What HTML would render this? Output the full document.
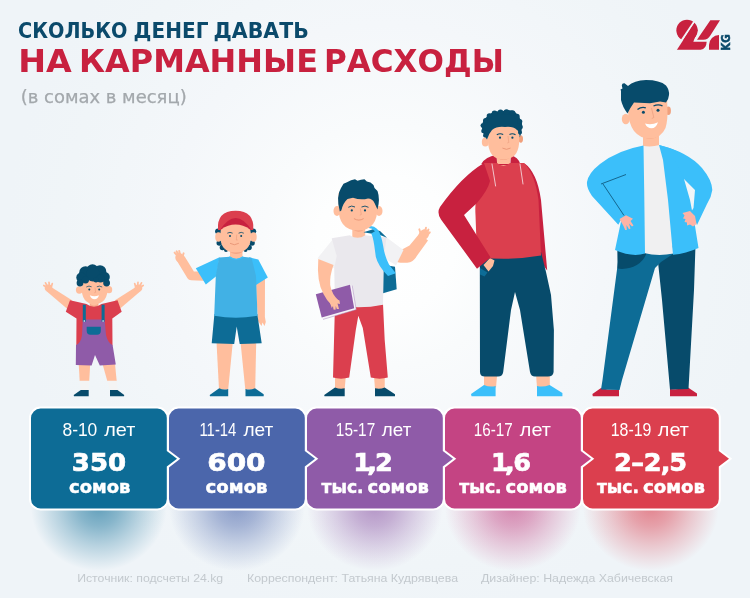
<!DOCTYPE html>
<html lang="ru">
<head>
<meta charset="utf-8">
<title>Сколько денег давать на карманные расходы</title>
<style>
html,body{margin:0;padding:0;}
body{width:750px;height:598px;overflow:hidden;background:#eff4f8;font-family:"Liberation Sans","DejaVu Sans",sans-serif;}
svg{display:block;position:absolute;left:0;top:0;}
.t1{font-family:"DejaVu Sans","Liberation Sans",sans-serif;font-weight:bold;fill:#0b4a6b;}
.t2{font-family:"DejaVu Sans","Liberation Sans",sans-serif;font-weight:bold;fill:#c8213f;}
.t3{font-family:"DejaVu Sans","Liberation Sans",sans-serif;fill:#a3a8ac;stroke:#a3a8ac;stroke-width:0.25;}
.age{font-family:"Liberation Sans",sans-serif;fill:#ffffff;}
.num{font-family:"DejaVu Sans","Liberation Sans",sans-serif;font-weight:bold;fill:#ffffff;stroke:#ffffff;stroke-width:0.7;}
.unit{font-family:"DejaVu Sans","Liberation Sans",sans-serif;font-weight:bold;fill:#ffffff;stroke:#ffffff;stroke-width:0.5;}
.foot{font-family:"Liberation Sans",sans-serif;fill:#c3c9ce;}
.kg{font-family:"DejaVu Sans","Liberation Sans",sans-serif;font-weight:bold;fill:#0b4a6b;stroke:#0b4a6b;stroke-width:0.5;}
</style>
</head>
<body>
<svg width="750" height="598" viewBox="0 0 750 598">
<defs>
<radialGradient id="bg" gradientUnits="userSpaceOnUse" cx="385" cy="245" r="380">
<stop offset="0" stop-color="#ffffff"/>
<stop offset="0.18" stop-color="#fdfefe"/>
<stop offset="0.32" stop-color="#f9fbfc"/>
<stop offset="0.58" stop-color="#f4f7fa"/>
<stop offset="0.85" stop-color="#f0f5f8"/>
<stop offset="1" stop-color="#eff4f8"/>
</radialGradient>
<radialGradient id="sh0" cx="0.5" cy="0.5" r="0.5"><stop offset="0" stop-color="#0d6c96" stop-opacity="0.62"/><stop offset="0.3" stop-color="#0d6c96" stop-opacity="0.46"/><stop offset="0.6" stop-color="#0d6c96" stop-opacity="0.25"/><stop offset="0.85" stop-color="#0d6c96" stop-opacity="0.09"/><stop offset="1" stop-color="#0d6c96" stop-opacity="0"/></radialGradient>
<radialGradient id="sh1" cx="0.5" cy="0.5" r="0.5"><stop offset="0" stop-color="#4b66ab" stop-opacity="0.62"/><stop offset="0.3" stop-color="#4b66ab" stop-opacity="0.46"/><stop offset="0.6" stop-color="#4b66ab" stop-opacity="0.25"/><stop offset="0.85" stop-color="#4b66ab" stop-opacity="0.09"/><stop offset="1" stop-color="#4b66ab" stop-opacity="0"/></radialGradient>
<radialGradient id="sh2" cx="0.5" cy="0.5" r="0.5"><stop offset="0" stop-color="#8f5ba8" stop-opacity="0.62"/><stop offset="0.3" stop-color="#8f5ba8" stop-opacity="0.46"/><stop offset="0.6" stop-color="#8f5ba8" stop-opacity="0.25"/><stop offset="0.85" stop-color="#8f5ba8" stop-opacity="0.09"/><stop offset="1" stop-color="#8f5ba8" stop-opacity="0"/></radialGradient>
<radialGradient id="sh3" cx="0.5" cy="0.5" r="0.5"><stop offset="0" stop-color="#c44483" stop-opacity="0.62"/><stop offset="0.3" stop-color="#c44483" stop-opacity="0.46"/><stop offset="0.6" stop-color="#c44483" stop-opacity="0.25"/><stop offset="0.85" stop-color="#c44483" stop-opacity="0.09"/><stop offset="1" stop-color="#c44483" stop-opacity="0"/></radialGradient>
<radialGradient id="sh4" cx="0.5" cy="0.5" r="0.5"><stop offset="0" stop-color="#db3f4e" stop-opacity="0.62"/><stop offset="0.3" stop-color="#db3f4e" stop-opacity="0.46"/><stop offset="0.6" stop-color="#db3f4e" stop-opacity="0.25"/><stop offset="0.85" stop-color="#db3f4e" stop-opacity="0.09"/><stop offset="1" stop-color="#db3f4e" stop-opacity="0"/></radialGradient>
<filter id="blur" x="-50%" y="-100%" width="200%" height="300%"><feGaussianBlur stdDeviation="9"/></filter>
</defs>
<rect width="750" height="598" fill="url(#bg)"/>

<!-- TITLE -->
<g id="title">
<text class="t1" y="37.9" font-size="20.6"><tspan x="18.05" textLength="109.4" lengthAdjust="spacingAndGlyphs">СКОЛЬКО</tspan> <tspan x="133.58" textLength="74.84" lengthAdjust="spacingAndGlyphs">ДЕНЕГ</tspan> <tspan x="213.55" textLength="95.25" lengthAdjust="spacingAndGlyphs">ДАВАТЬ</tspan></text>
<text class="t2" y="71.9" font-size="31.2"><tspan x="18.2" textLength="53.6" lengthAdjust="spacingAndGlyphs">НА</tspan> <tspan x="78.93" textLength="239.05" lengthAdjust="spacingAndGlyphs">КАРМАННЫЕ</tspan> <tspan x="324.01" textLength="179.82" lengthAdjust="spacingAndGlyphs">РАСХОДЫ</tspan></text>
<text class="t3" x="20.7" y="103.4" font-size="17.5" textLength="166" lengthAdjust="spacingAndGlyphs">(в сомах в месяц)</text>
</g>

<!-- LOGO -->
<g id="logo" role="img" aria-label="24.kg"><title>24.kg</title>
<clipPath id="clA"><polygon points="-100,-50 375.900,-50 -61.600,600 -100,600"/></clipPath>
<clipPath id="clB"><polygon points="405.750,-50 900,-50 900,600 -16.750,600"/></clipPath>
<g transform="translate(674,16) scale(0.066667)" fill="#c8213f">
<circle cx="195" cy="215" r="160" clip-path="url(#clA)"/>
<g clip-path="url(#clB)"><circle cx="195" cy="215" r="160"/><path d="M355,215 L290,385 L490,388 Q485,500 400,505 L0,505 L305,105 Z"/></g>
<path d="M545,62 L690,62 L545,292 Q510,355 440,355 L345,355 Z"/>
<path d="M525,505 L525,435 A150,150 0 0 1 675,285 L675,505 Z"/>
</g>
<text class="kg" transform="translate(730,50.700) rotate(-90)" font-size="12" textLength="16.400" lengthAdjust="spacingAndGlyphs">KG</text>
</g>

<!-- FIGURES -->
<g id="figures">
<g id="fig1">
<!-- arms -->
<g stroke="#ffbe9d" stroke-linecap="round" fill="none">
<path d="M46.300,291 L51.500,287.300 L72,300.300 L68,309.500 Z" fill="#ffbe9d" stroke="none"/>
<path d="M140.700,291 L135.500,287.300 L115,300.300 L119,309.500 Z" fill="#ffbe9d" stroke="none"/>
<path d="M48,288 L43.800,285.500 M48,287.500 L45.500,282.800 M49.500,287 L49,282.300 M51,288 L52.300,283.600" stroke-width="1.700"/>
<path d="M139,288 L143.200,285.500 M139,287.500 L141.500,282.800 M137.500,287 L138,282.300 M136,288 L134.700,283.600" stroke-width="1.700"/>
</g>
<ellipse cx="48.500" cy="288" rx="3.800" ry="3.400" fill="#ffbe9d"/>
<ellipse cx="138.500" cy="288" rx="3.800" ry="3.400" fill="#ffbe9d"/>
<!-- legs -->
<polygon points="78.700,364 90.200,364 89.200,381 79.700,381" fill="#ffbe9d"/>
<polygon points="102.500,364 115,364 116.700,381 107.300,381" fill="#ffbe9d"/>
<polygon points="79.700,380.800 89.200,380.800 88.700,390.300 80.800,390.300" fill="#f4f4f4"/>
<polygon points="107.200,380.800 116.700,380.800 117.500,390.300 110,390.300" fill="#f4f4f4"/>
<path d="M73.700,395 L80.800,390 L88.700,390 L88.700,396.300 L74,396.300 Z" fill="#074b6b"/>
<path d="M110,390 L117.500,390 L124.200,395 L124,396.300 L110,396.300 Z" fill="#074b6b"/>
<!-- neck -->
<rect x="89.800" y="298" width="8.600" height="9" fill="#f7a98a"/>
<!-- shirt -->
<path d="M70,300.300 L86.500,304 Q94,309.500 101.500,304 L117.500,300.300 L121.700,311.700 L112.300,318.500 L112.500,345.500 L76.300,345.500 L76.500,318.500 L65.800,311.700 Z" fill="#db3f4e"/>
<path d="M89.800,303.500 Q94,307.500 98.400,303.500 L98.400,302 L89.800,302 Z" fill="#ffbe9d"/>
<!-- overalls -->
<path d="M82.800,319.500 L104.600,319.500 L106,335 Q108,343 112.600,345 L115.800,364.500 L99.800,365.500 L95,355 L91.600,365.500 L75.800,365 L76,345 Q81,343 82,335 Z" fill="#8f5ba8"/>
<rect x="82.800" y="304.700" width="3" height="17" fill="#0d6c96"/>
<rect x="101.600" y="304.700" width="3" height="17" fill="#0d6c96"/>
<circle cx="84.300" cy="321" r="0.800" fill="#ffffff"/>
<circle cx="103.100" cy="321" r="0.800" fill="#ffffff"/>
<path d="M86.700,326.700 H100.800 V331 Q100.800,334.700 97,334.700 H90.500 Q86.700,334.700 86.700,331 Z" fill="#0d6c96"/>
<!-- head -->
<ellipse cx="79.300" cy="290" rx="3.400" ry="3.700" fill="#ffbe9d"/>
<ellipse cx="109" cy="289.700" rx="3.200" ry="3.600" fill="#ffbe9d"/>
<path d="M81.500,287 Q81.500,304 94.500,304 Q107.800,304 107.800,287 L107.800,278 L81.500,278 Z" fill="#ffbe9d"/>
<g fill="#074b6b">
<circle cx="85.500" cy="272.500" r="6.300"/><circle cx="92.500" cy="270.300" r="6"/><circle cx="100" cy="271.500" r="6.300"/>
<circle cx="104.800" cy="277" r="5"/><circle cx="81.300" cy="277.500" r="5"/><circle cx="80" cy="283" r="3.400"/><circle cx="106.600" cy="283" r="3.400"/>
<circle cx="93" cy="274.500" r="7"/><circle cx="85.500" cy="279.800" r="3.600"/><circle cx="100.500" cy="278.500" r="4"/><circle cx="96" cy="279.800" r="2.600"/>
</g>
<circle cx="89.300" cy="289.400" r="1" fill="#074b6b"/><circle cx="99.200" cy="289.400" r="1" fill="#074b6b"/>
<path d="M86.300,287 Q89,285.300 91.600,286.800 M96.800,286.800 Q99.500,285.300 102.200,287" stroke="#074b6b" stroke-width="0.700" fill="none"/>
<path d="M95,287.500 L95.600,292.300 L94.300,292.800" stroke="#ea9c7c" stroke-width="0.600" fill="none"/>
<path d="M89.800,295.300 Q94.500,297.200 99,295.300 Q97.800,299.300 94.500,299.300 Q91.200,299.300 89.800,295.300 Z" fill="#ffffff"/>
</g>
<g id="fig2">
<!-- legs -->
<polygon points="216.500,342 232.800,342 228.200,389.500 219,389.500" fill="#ffbe9d"/>
<polygon points="240.500,342 256.200,342 255.200,389.500 245.300,389.500" fill="#ffbe9d"/>
<path d="M209.700,395 L219.200,388.300 Q223.500,390.500 228.200,389 L228.200,396.300 L210,396.300 Z" fill="#0d6c96"/>
<path d="M245.500,389 Q250,390.500 255,388.300 L263.700,394.200 L263.700,396.300 L245.500,396.300 Z" fill="#0d6c96"/>
<!-- right arm -->
<path d="M256,282 L265,278 L264.900,317 L265.800,322 L264.500,326 L262.500,322.500 L261.500,326 L258,321 L256.700,300 Z" fill="#ffbe9d"/>
<!-- left arm -->
<path d="M203,276.300 L191.300,275.800 L181.300,259.500" stroke="#ffbe9d" stroke-width="9" stroke-linecap="round" stroke-linejoin="round" fill="none"/>
<ellipse cx="179.800" cy="257.800" rx="4.400" ry="4.800" fill="#ffbe9d" transform="rotate(-25 179.800 257.800)"/>
<path d="M177.500,256 L174.600,252.600 M178.500,255 L176.600,251.300 M180,254.500 L179.200,251 M182.500,257 L183.600,253.300" stroke="#ffbe9d" stroke-width="1.900" stroke-linecap="round" fill="none"/>
<!-- neck -->
<rect x="230" y="245" width="12.500" height="15" fill="#ffbe9d"/>
<path d="M230,252 Q236,256 242.500,252 L242.500,249 L230,249 Z" fill="#f3a484"/>
<!-- shorts -->
<path d="M214.400,314 L257.300,314 L261.700,343.300 L239.700,344 L236.700,326.500 L234.200,344 L211.700,343.200 Z" fill="#0d6c96"/>
<!-- shirt -->
<polygon points="219.500,257.200 195.800,268.300 205.800,284.500 216.500,276" fill="#3bbffa"/>
<polygon points="249,257.300 258.300,259.500 267.800,277.500 256,285 250,270" fill="#3bbffa"/>
<path d="M219,257.400 L229.800,256.700 Q236.200,261.500 242.700,256.700 L251.500,257.800 L256,276 L257.500,315.700 Q236,319.800 214.200,315.700 L215.800,276 Z" fill="#41b1e5"/>
<path d="M229.300,256.700 Q236.200,262 243.200,256.700" stroke="#3bbffa" stroke-width="1.400" fill="none"/>
<!-- head -->
<g fill="#074b6b">
<circle cx="218" cy="231.300" r="2.900"/><circle cx="221" cy="231" r="2.500"/><circle cx="219.300" cy="243" r="2.800"/><circle cx="222.500" cy="247.500" r="2.800"/><circle cx="226" cy="250" r="2"/>
<circle cx="253.300" cy="231.300" r="2.900"/><circle cx="250.500" cy="231" r="2.500"/><circle cx="252" cy="243" r="2.800"/><circle cx="249" cy="247.500" r="2.800"/><circle cx="245.500" cy="250" r="2"/>
</g>
<ellipse cx="218.400" cy="237" rx="3.200" ry="4.800" fill="#ffbe9d"/>
<ellipse cx="253.500" cy="237" rx="3.200" ry="4.800" fill="#ffbe9d"/>
<path d="M218,230 Q216.500,211 235.600,210.800 Q254.600,211 253.300,230 Z" fill="#db3f4e"/>
<path d="M220,230 Q235.600,206 251.500,230 Z" fill="#c8213f"/>
<path d="M220.300,235 Q220,252.600 235.600,252.600 Q251.200,252.600 251,235 L250.300,229.700 Q235.600,219.500 220.800,229.700 Z" fill="#ffbe9d"/>
<circle cx="230" cy="236" r="1" fill="#074b6b"/><circle cx="241.200" cy="236" r="1" fill="#074b6b"/>
<path d="M227.300,233.200 Q230,231.500 232.600,233.200 M238.600,233.200 Q241.200,231.500 243.800,233.200" stroke="#074b6b" stroke-width="0.800" fill="none"/>
<path d="M236.800,234.500 L236.300,240 L237.600,240" stroke="#ea9c7c" stroke-width="0.600" fill="none"/>
<path d="M230.300,243.500 Q234.400,246.200 238.500,243.500" stroke="#e58f70" stroke-width="0.800" fill="none" stroke-linecap="round"/>
</g>
<g id="fig3">
<!-- ankles, shoes -->
<polygon points="335,376 345.800,376 344.700,389 335,389" fill="#ffbe9d"/>
<polygon points="374,376 384.800,376 384.700,389 375,389" fill="#ffbe9d"/>
<path d="M324.200,395 L335,387.500 Q340,389.500 344.700,388.300 L344.700,396.200 L324.500,396.200 Z" fill="#074b6b"/>
<path d="M375,388.300 Q380,389.500 384.700,387.500 L395,394.200 L395,396.200 L375,396.200 Z" fill="#074b6b"/>
<!-- backpack -->
<polygon points="382,264.500 395,266.700 396.700,289.200 383,293.300" fill="#0d6c96"/>
<!-- right arm -->
<path d="M396.500,262 Q404,263.600 410,262.200 Q414.500,260.500 416.800,256 L428,240.500 L419.500,233.500 L409.500,245.500 L402,249.500 Z" fill="#ffbe9d"/>
<ellipse cx="423.800" cy="234.800" rx="4.800" ry="6" fill="#ffbe9d" transform="rotate(38 423.800 234.800)"/>
<path d="M420.500,233 L419.300,229.300 M425,231.500 L426,227.700 M427,232.500 L428.500,229.500 M428,234.500 L429.800,232.300" stroke="#ffbe9d" stroke-width="1.900" stroke-linecap="round" fill="none"/>
<!-- neck -->
<rect x="352.300" y="224" width="12.900" height="14" fill="#ffbe9d"/>
<path d="M352.300,229 Q358.500,234.500 365.200,229 L365.200,225 L352.300,225 Z" fill="#f3a484"/>
<!-- pants -->
<path d="M335,304 Q360,309 383,304 L384.700,340 L387.800,377.500 Q380,379.800 370.800,377.500 L362.800,328 L358.300,315.800 L355.800,330 L349.200,377.500 Q341,379.800 333,377.500 Z" fill="#db3f4e"/>
<!-- shirt -->
<polygon points="334,237.800 317.500,258.300 334.500,268.600 338,254" fill="#f2f2f4"/>
<polygon points="382,237.300 386.700,237.500 403.500,250 396,265.300 382,256.700" fill="#f2f2f4"/>
<path d="M349.800,235.200 Q357.800,240.500 365.300,235.200 L386.500,237.500 L384,256 L383,304.700 Q360,309.500 335,305.200 L334.200,268 L336.700,256 L331.700,238.300 Z" fill="#eae8ed"/>
<!-- strap -->
<polygon points="363.500,232.300 373,229.300 380,231 387,237.800 380,235 372,233.800" fill="#0d6c96"/>
<path d="M368.500,226.200 Q373.500,225.200 377.200,229 Q380.800,233 383,245 Q384.500,256 389,264.500 L395.800,273.300 L388,276 Q378,266 375.800,256.700 L374.200,245 Q373,237 371.200,233.500 L375,231.300 Q372,227.900 368.500,227.900 Z" fill="#3bbffa"/>
<!-- book -->
<polygon points="350,284.700 352.200,285.500 356.200,309.600 323,319.400 321.700,317.500" fill="#f6f3f8"/>
<polygon points="315.800,294.200 350,284.700 354.200,308.300 321.700,317.500" fill="#8f5ba8"/>
<path d="M352.200,285.500 L356.200,309.600 L323,319.400" stroke="#a886bd" stroke-width="0.500" fill="none"/>
<!-- left arm -->
<path d="M318.300,259 Q316.500,282 323.500,294 Q327,301 331.500,305 L339,301 Q331.500,294 330.200,285 Q329.500,276 333.500,265 Z" fill="#ffbe9d"/>
<!-- hand on book -->
<path d="M330,296.500 L339.500,300.500 L340,304 L337.500,303.500 L339,309 L336.800,309 L335.800,306 L335.500,309.800 L333.500,309.500 L333,306 L331.800,308 L330,303 Z" fill="#ffbe9d"/>
<!-- head -->
<ellipse cx="337" cy="211" rx="3.500" ry="5" fill="#ffbe9d"/>
<ellipse cx="379" cy="211" rx="3.500" ry="5" fill="#ffbe9d"/>
<path d="M338.500,206 Q338,230.600 358,230.600 Q377.800,230.600 377.500,206 L377.500,193 L338.500,193 Z" fill="#ffbe9d"/>
<path d="M339.800,211.500 Q335.800,196 341,188 L343.500,183.800 L347,182.300 L351,180.300 L355,179.300 L357.500,180.800 L361,179.800 L364.500,179.300 L366.800,181.500 L370.500,182.500 L373.500,185 L374.500,188 L377.500,191 Q380.300,199 377.500,209.500 L374.500,203 Q372.500,198.500 368,198.500 Q361,200.500 353,197.800 L347.500,199 Q343,203 341.300,210.500 Z" fill="#074b6b"/>
<circle cx="351.800" cy="210.400" r="1.100" fill="#074b6b"/><circle cx="365" cy="210.400" r="1.100" fill="#074b6b"/>
<path d="M348.300,207.300 Q351.500,205 355,207 M361.500,207 Q365,205 368.500,207.300" stroke="#074b6b" stroke-width="0.900" fill="none"/>
<path d="M360.300,208.500 L361.300,214.500 L359.800,215.200" stroke="#ea9c7c" stroke-width="0.600" fill="none"/>
<path d="M354.300,218.800 Q358.800,221.600 363.300,218.800" stroke="#e58f70" stroke-width="0.800" fill="none" stroke-linecap="round"/>
</g>
<g id="fig4">
<!-- ankles, shoes -->
<polygon points="484,374 497.200,374 496,387.500 484,387.500" fill="#ffbe9d"/>
<polygon points="536,374 549.800,374 549.800,387.500 537,387.500" fill="#ffbe9d"/>
<path d="M471,394 L484,385 Q490,387.500 495.600,386 L495.600,396.200 L471.500,396.200 Z" fill="#3bbffa"/>
<path d="M537,386 Q543,387.500 549.600,385 L562.400,393 L562.400,396.200 L537,396.200 Z" fill="#3bbffa"/>
<!-- right arm sliver -->
<path d="M524,163 Q537,172 541,200 L547.200,270.500 L541,262 L536,200 Z" fill="#c8213f"/>
<!-- pants -->
<path d="M479.800,253 L541,252 L546,272 L551,295 L553.900,330 L553.600,372 Q553,376.600 548,376.600 L535,376.600 Q531,376.600 530,372 L520,310 L515,292 L511,310 L503.200,372 Q502.500,376.600 498,376.600 L485,376.600 Q480,376.600 480,372 Z" fill="#074b6b"/>
<!-- hand in pocket -->
<polygon points="480,268 487.500,272.500 484.500,276.500 480,274.500" fill="#0d6c96"/>
<polygon points="483.500,265 490,258 494.500,260.500 493,266 488.500,271.500" fill="#ffbe9d"/>
<!-- neck -->
<rect x="497" y="153" width="13" height="14" fill="#ffbe9d"/>
<path d="M497,157.500 Q503.500,162.500 510,157.500 L510,154 L497,154 Z" fill="#f3a484"/>
<!-- hood -->
<path d="M481.300,164 Q485,157 496.500,154.800 L497.200,165 L510.300,165 L510.800,155.300 Q518,157 520.300,164 Z" fill="#c8213f"/>
<!-- body -->
<path d="M484,163 L497,163 Q503.500,168.600 510,163 L524,163 Q535,174 538.500,200 L541,255.600 Q510,261 477,257.200 L475.500,215 Q474,190 484,163 Z" fill="#db3f4e"/>
<path d="M492,164 L495.600,186 M520,164 L523,184" stroke="#f3d3d8" stroke-width="0.900" fill="none" stroke-linecap="round"/>
<!-- left arm -->
<path d="M484,163 Q462,176 440,207 Q436.500,213 441,219.500 L477,268.700 L490.600,257.500 L464,215 L477,203 Q488,190 490,181 Z" fill="#c8213f"/>
<!-- head -->
<ellipse cx="485.300" cy="142" rx="3.500" ry="4.600" fill="#ffbe9d"/>
<ellipse cx="520.800" cy="139" rx="2.200" ry="3.700" fill="#f0a07c"/>
<path d="M488,140 Q488,159.400 503.500,159.400 Q519.200,159.400 519.200,140 L519.200,123 L488,123 Z" fill="#ffbe9d"/>
<path d="M487,139.500 Q482.500,134 481.800,127 Q482,120 489,115 Q494,110.500 501,111.500 L507,110 Q512,110 515,112 Q519.500,116 522,123 Q522.500,131 519.800,137.500 Q519,131 517,130 Q513,126 505,127 Q497,126 492,130 Q488.500,134 487,139.500 Z" fill="#074b6b"/>
<g fill="#074b6b">
<circle cx="483.500" cy="131" r="2.300"/><circle cx="482.800" cy="125.500" r="2.300"/><circle cx="485.500" cy="120.500" r="2.500"/><circle cx="489.500" cy="116" r="2.800"/>
<circle cx="494.500" cy="113.200" r="2.800"/><circle cx="500.500" cy="112.300" r="2.800"/><circle cx="506.500" cy="112" r="2.800"/><circle cx="512.500" cy="113" r="2.800"/>
<circle cx="517" cy="116.500" r="2.700"/><circle cx="519.800" cy="121.500" r="2.500"/><circle cx="520.600" cy="127" r="2.300"/><circle cx="520" cy="132.500" r="2"/><circle cx="485" cy="135.500" r="2"/>
</g>
<circle cx="500" cy="137.700" r="1.100" fill="#074b6b"/><circle cx="512.400" cy="137.700" r="1.100" fill="#074b6b"/>
<path d="M496.800,134.800 Q500,132.800 503.200,134.500 M509.500,134.500 Q512.500,132.800 515.500,134.800" stroke="#074b6b" stroke-width="1.100" fill="none"/>
<path d="M508,136 L508.800,142.500 L507.300,143" stroke="#ea9c7c" stroke-width="0.600" fill="none"/>
<path d="M502.800,148.300 Q506.500,150.600 510.200,148.300" stroke="#e58f70" stroke-width="0.800" fill="none" stroke-linecap="round"/>
</g>
<g id="fig5">
<!-- shoes -->
<path d="M592.400,394 L601,388 Q610,390.500 619,389.600 L619,396.200 L592.800,396.200 Z" fill="#c8213f"/>
<path d="M670,389 Q679,390 688,387.600 L697,393.600 L697,396.200 L670,396.200 Z" fill="#c8213f"/>
<!-- legs -->
<path d="M655,246 L695.500,245 L694,290 L688.500,389 L670,389.500 L662,300 L658,262 Z" fill="#074b6b"/>
<path d="M617.500,246 L673,248 L673,254 L661,262 L655,268 L622,380 L619.500,390 L601,389.600 L602.500,380 L618,262 Z" fill="#0d6c96"/>
<path d="M617.500,247 L646,248 L646,254.500 Q640,268 622,269 L617.500,268.500 Z" fill="#074b6b"/>
<!-- neck -->
<rect x="643" y="130" width="16" height="18" fill="#ffbe9d"/>
<path d="M643,136.500 Q651,141.500 659,135.500 L659,131 L643,131 Z" fill="#f3a484"/>
<!-- white shirt -->
<path d="M642.500,145.700 Q651,147.500 659.500,145 L663,160 L668,200 L673.500,253.500 Q658,256.500 644,253 Z" fill="#f0f0f1"/>
<!-- jacket left -->
<path d="M643.500,145.500 Q618,150 600,164 Q588.500,173 587,182 Q586.300,188 592,196 L618.300,224.700 L621.500,219 L615,250 Q632,257.500 645,253.500 L644.200,190 Z" fill="#3bbffa"/>
<path d="M601,184 L626,174.500 M603,184 L624,215.500" stroke="#0a4f72" stroke-width="0.800" fill="none"/>
<!-- jacket right -->
<path d="M659,145 Q680,150 690,160 L684,179 L690,200 L695,226 L698.500,248 Q686,253.500 673,254.800 L668,200 L663,160 Z" fill="#3bbffa"/>
<path d="M659,145 Q688,152 702,168 Q712,180 712.300,190 Q711.500,197 707,204 L697,225 L691,212 L693.500,208 L695,190 L684,179 L675,160 Z" fill="#3bbffa"/>
<!-- hands -->
<path d="M619.500,219 L626,215.300 L633,218.800 L630.500,221 L633.500,225.500 L632,226.500 L629,223.500 L630.500,228.500 L629,229.300 L626.500,225 L626.800,230 L625.200,230 L623.500,226 Z" fill="#ffb3a6"/>
<path d="M696.500,224 L695,216 L690,211 L682.500,213 L684.500,215.500 L683,218.500 L685.500,219 L684.500,222 L687,222.500 L687,225.500 L690,224.500 L693,226.500 Z" fill="#ffb3a6"/>
<!-- head -->
<ellipse cx="625.800" cy="119" rx="4" ry="5.300" fill="#ffbe9d"/>
<ellipse cx="668.300" cy="110.800" rx="2.600" ry="4.300" fill="#f0a07c"/>
<path d="M628,112 Q628.500,123 634,131 Q640,138.600 650,138.600 Q661,138.200 665.500,128 Q668,120 667.400,108 L667,95 L628,95 Z" fill="#ffbe9d"/>
<path d="M621,91 L620.500,89.500 L622.500,88.500 L621.800,85.500 Q622,83 624.500,83.300 L628,86 Q634,80.300 646,80 Q660,80 666,85.500 Q669.500,90 669,95 Q668.500,100 666,102.500 L660,101.500 L650,103.300 L634,102.500 Q630,108 627.500,113.500 Q622.500,107 621,100 Z" fill="#074b6b"/>
<circle cx="643.400" cy="112.300" r="1.500" fill="#074b6b"/><circle cx="658" cy="110.200" r="1.500" fill="#074b6b"/>
<path d="M637.500,109.500 Q641.500,106.300 645.800,107.800 M653.500,106 Q658,103.800 662.500,105.800" stroke="#074b6b" stroke-width="1.300" fill="none"/>
<path d="M651.500,108 L653.800,117.500 L651.800,118.500" stroke="#ea9c7c" stroke-width="0.700" fill="none"/>
<path d="M645,123.500 Q651.500,125.500 658,122.300 Q656,128.300 651.500,128.300 Q647,128.300 645,123.500 Z" fill="#ffffff"/>
</g>

</g>

<!-- CARD SHADOWS -->
<g id="shadows">
<ellipse cx="98.85" cy="507" rx="68" ry="64" fill="url(#sh0)"/>
<ellipse cx="236.85" cy="507" rx="68" ry="64" fill="url(#sh1)"/>
<ellipse cx="374.85" cy="507" rx="68" ry="64" fill="url(#sh2)"/>
<ellipse cx="512.85" cy="507" rx="68" ry="64" fill="url(#sh3)"/>
<ellipse cx="650.85" cy="507" rx="68" ry="64" fill="url(#sh4)"/>
</g>

<!-- CARDS -->
<g id="cards" stroke="#ffffff" stroke-width="4" stroke-linejoin="miter" paint-order="stroke">
<path d="M592.5,408.6 H709.3 a9.5,9.5 0 0 1 9.5,9.5 V451 L729.0,458.8 L718.8,466.6 V498.9 a9.5,9.5 0 0 1 -9.5,9.5 H592.5 a9.5,9.5 0 0 1 -9.5,-9.5 V418.1 a9.5,9.5 0 0 1 9.5,-9.5 Z" fill="#db3f4e"/>
<path d="M454.5,408.6 H571.3 a9.5,9.5 0 0 1 9.5,9.5 V451 L591.0,458.8 L580.8,466.6 V498.9 a9.5,9.5 0 0 1 -9.5,9.5 H454.5 a9.5,9.5 0 0 1 -9.5,-9.5 V418.1 a9.5,9.5 0 0 1 9.5,-9.5 Z" fill="#c44483"/>
<path d="M316.5,408.6 H433.3 a9.5,9.5 0 0 1 9.5,9.5 V451 L453.0,458.8 L442.8,466.6 V498.9 a9.5,9.5 0 0 1 -9.5,9.5 H316.5 a9.5,9.5 0 0 1 -9.5,-9.5 V418.1 a9.5,9.5 0 0 1 9.5,-9.5 Z" fill="#8f5ba8"/>
<path d="M178.5,408.6 H295.3 a9.5,9.5 0 0 1 9.5,9.5 V451 L315.0,458.8 L304.8,466.6 V498.9 a9.5,9.5 0 0 1 -9.5,9.5 H178.5 a9.5,9.5 0 0 1 -9.5,-9.5 V418.1 a9.5,9.5 0 0 1 9.5,-9.5 Z" fill="#4b66ab"/>
<path d="M40.5,408.6 H157.3 a9.5,9.5 0 0 1 9.5,9.5 V451 L177.0,458.8 L166.8,466.6 V498.9 a9.5,9.5 0 0 1 -9.5,9.5 H40.5 a9.5,9.5 0 0 1 -9.5,-9.5 V418.1 a9.5,9.5 0 0 1 9.5,-9.5 Z" fill="#0d6c96"/>
</g>

<!-- CARD TEXT -->
<g id="cardtext">
<text class="age" y="435.7" font-size="18.5"><tspan x="62.46" textLength="34.85" lengthAdjust="spacingAndGlyphs">8-10</tspan> <tspan x="104.28" textLength="31.05" lengthAdjust="spacingAndGlyphs">лет</tspan></text>
<text class="num" y="471.2" font-size="25.6"><tspan x="71.85" textLength="54.2" lengthAdjust="spacingAndGlyphs">350</tspan></text>
<text class="unit" y="492.6" font-size="18"><tspan x="69.0" textLength="61.4" lengthAdjust="spacingAndGlyphs">сомов</tspan></text>
<text class="age" y="435.7" font-size="18.5"><tspan x="199.46" textLength="36.91" lengthAdjust="spacingAndGlyphs">11-14</tspan> <tspan x="243.49" textLength="29.84" lengthAdjust="spacingAndGlyphs">лет</tspan></text>
<text class="num" y="471.2" font-size="25.6"><tspan x="207.2" textLength="58.37" lengthAdjust="spacingAndGlyphs">600</tspan></text>
<text class="unit" y="492.6" font-size="18"><tspan x="205.59" textLength="62.02" lengthAdjust="spacingAndGlyphs">сомов</tspan></text>
<text class="age" y="435.7" font-size="18.5"><tspan x="335.82" textLength="39.39" lengthAdjust="spacingAndGlyphs">15-17</tspan> <tspan x="381.89" textLength="29.43" lengthAdjust="spacingAndGlyphs">лет</tspan></text>
<text class="num" x="353.3 367.3 375" y="471.2" font-size="25.6">1,2</text>
<text class="unit" y="492.6" font-size="18"><tspan x="321.51" textLength="42.14" lengthAdjust="spacingAndGlyphs">тыс.</tspan> <tspan x="367.6" textLength="61.4" lengthAdjust="spacingAndGlyphs">сомов</tspan></text>
<text class="age" y="435.7" font-size="18.5"><tspan x="473.83" textLength="38.97" lengthAdjust="spacingAndGlyphs">16-17</tspan> <tspan x="519.88" textLength="31.05" lengthAdjust="spacingAndGlyphs">лет</tspan></text>
<text class="num" x="490.9 505 513.3" y="471.2" font-size="25.6">1,6</text>
<text class="unit" y="492.6" font-size="18"><tspan x="459.31" textLength="42.35" lengthAdjust="spacingAndGlyphs">тыс.</tspan> <tspan x="505.6" textLength="61.4" lengthAdjust="spacingAndGlyphs">сомов</tspan></text>
<text class="age" y="435.7" font-size="18.5"><tspan x="610.78" textLength="40.65" lengthAdjust="spacingAndGlyphs">18-19</tspan> <tspan x="657.88" textLength="31.05" lengthAdjust="spacingAndGlyphs">лет</tspan></text>
<text class="num" x="614 631.3 643.8 660.8 669.2" y="471.2" font-size="25.6">2–2,5</text>
<text class="unit" y="492.6" font-size="18"><tspan x="596.91" textLength="42.14" lengthAdjust="spacingAndGlyphs">тыс.</tspan> <tspan x="642.99" textLength="62.02" lengthAdjust="spacingAndGlyphs">сомов</tspan></text>
</g>

<!-- FOOTER -->
<g id="footer">
<text class="foot" x="77.200" y="581.700" font-size="11.500" textLength="146" lengthAdjust="spacingAndGlyphs">Источник: подсчеты 24.kg</text>
<text class="foot" x="247" y="581.700" font-size="11.500" textLength="211" lengthAdjust="spacingAndGlyphs">Корреспондент: Татьяна Кудрявцева</text>
<text class="foot" x="481" y="581.700" font-size="11.500" textLength="192" lengthAdjust="spacingAndGlyphs">Дизайнер: Надежда Хабичевская</text>
</g>
</svg>
</body>
</html>
